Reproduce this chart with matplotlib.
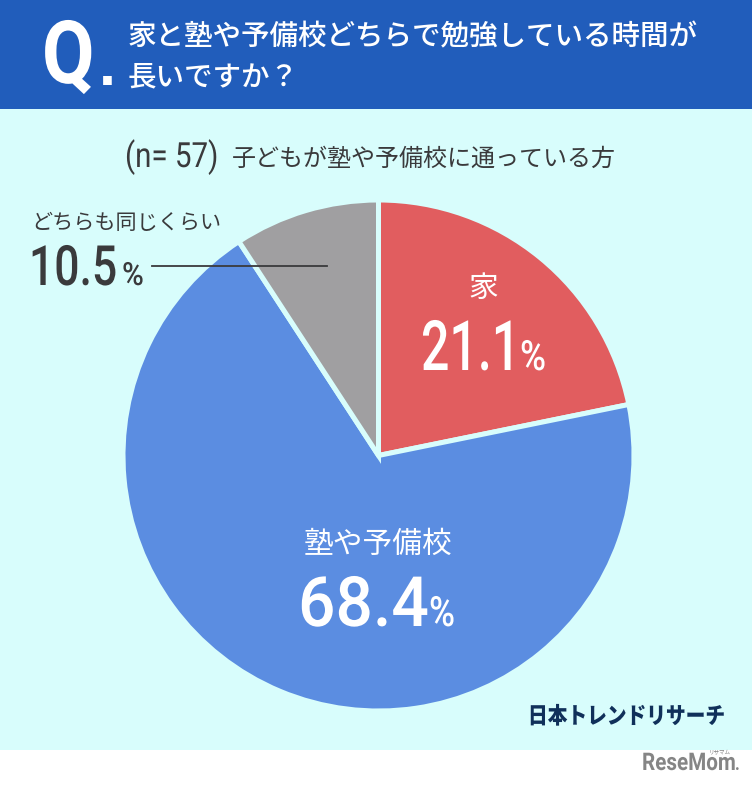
import matplotlib
matplotlib.use('Agg')
import matplotlib.pyplot as plt
from matplotlib.patches import Rectangle
from matplotlib.patheffects import AbstractPathEffect
from matplotlib.transforms import Affine2D

plt.rcParams['font.family'] = ['Noto Sans CJK JP', 'DejaVu Sans']

# pie data
categories = ['家', '塾や予備校', 'どちらも同じくらい']
percent_labels = ['21.1', '68.4', '10.5']
# slice sizes as measured from the angles in the picture, which differ a bit from the printed labels
slice_shares = [21.8, 69.0, 9.2]
colors = ['#E15D5F', '#5B8DE1', '#A09FA1']

BG = '#D8FDFC'
INK = '#3A3A3C'
W, H = 752, 785


class Condense(AbstractPathEffect):
    '''
        Squeeze a text horizontally around x0 (no condensed font is installed)
    '''
    def __init__(self, sx, x0):
        super().__init__()
        self.squeeze = Affine2D().translate(-x0, 0).scale(sx, 1).translate(x0, 0)

    def draw_path(self, renderer, gc, tpath, affine, rgbFace=None):
        renderer.draw_path(gc, tpath, affine + self.squeeze, rgbFace)


def Y(py):
    # picture y (from top) to axes y
    return H - py


def putText(x, py, s, color, size, sx=None, **kw):
    kw.setdefault('ha', 'left')
    kw.setdefault('va', 'baseline')
    t = ax.text(x, Y(py), s, color=color, fontsize=size, zorder=4, **kw)
    if sx is not None:
        t.set_path_effects([Condense(sx, x)])
    return t


fig = plt.figure(figsize=(W / 100, H / 100), dpi=100, facecolor='white')
ax = fig.add_axes([0, 0, 1, 1])

ax.add_patch(Rectangle((0, Y(750)), W, 750, color=BG, lw=0, zorder=0))
ax.add_patch(Rectangle((0, Y(109)), W, 109, color='#215DBB', lw=0, zorder=1))

ax.pie(slice_shares, colors=colors, startangle=90, counterclock=False,
       center=(378.5, Y(455.5)), radius=255.5, frame=True,
       wedgeprops={'edgecolor': BG, 'linewidth': 3.6})
ax.set_xlim(0, W)
ax.set_ylim(0, H)
ax.set_aspect('equal')
ax.axis('off')

# header
putText(42, 83, 'Q', 'white', 63, sx=0.87, family=['Roboto'], fontweight='bold')
putText(99, 85, '.', 'white', 44, family=['Liberation Sans'], fontweight='bold')
putText(128, 37, '家と塾や予備校どちらで勉強している時間が', 'white', 20.55,
        fontweight='medium', va='center')
putText(128, 77, '長いですか？', 'white', 20.55, fontweight='medium', va='center')

# sub heading
putText(125, 167, '(n= 57)', INK, 25, sx=0.85, family=['Roboto'])
putText(232, 159, '子どもが塾や予備校に通っている方', INK, 17.3, va='center')

# labels on the slices
putText(483, 288, categories[0], 'white', 21.4, ha='center', va='center')
putText(421, 370, percent_labels[0], 'white', 50, sx=0.72, family=['Roboto'], fontweight='medium')
putText(520, 370, '%', 'white', 30, sx=0.85, family=['Roboto'], fontweight='medium')

putText(378, 544, categories[1], 'white', 21.4, ha='center', va='center')
putText(298, 626, percent_labels[1], 'white', 50, sx=0.95, family=['Roboto'], fontweight='medium')
putText(429, 626, '%', 'white', 30, sx=0.85, family=['Roboto'], fontweight='medium')

putText(31, 223, categories[2], INK, 15.2, va='center')
putText(29, 285, percent_labels[2], INK, 40, sx=0.8, family=['Roboto'], fontweight='medium')
putText(122, 285, '%', INK, 23, sx=0.93, family=['Roboto'], fontweight='medium')
ax.plot([152, 327], [Y(266), Y(266)], color=INK, lw=1.3, zorder=4)

# logos
putText(528, 717, '日本トレンドリサーチ', '#10305A', 16.5, sx=0.86, fontweight='heavy', va='center')
putText(642, 770, 'ReseMom', '#858585', 17.5, sx=0.85, family=['Roboto'], fontweight='bold')
putText(735, 770, '.', '#858585', 12, family=['Roboto'], fontweight='bold')
putText(720, 753, 'リサマム', '#858585', 4, ha='center', va='center')

fig.savefig('out.png', dpi=100, facecolor='white')
